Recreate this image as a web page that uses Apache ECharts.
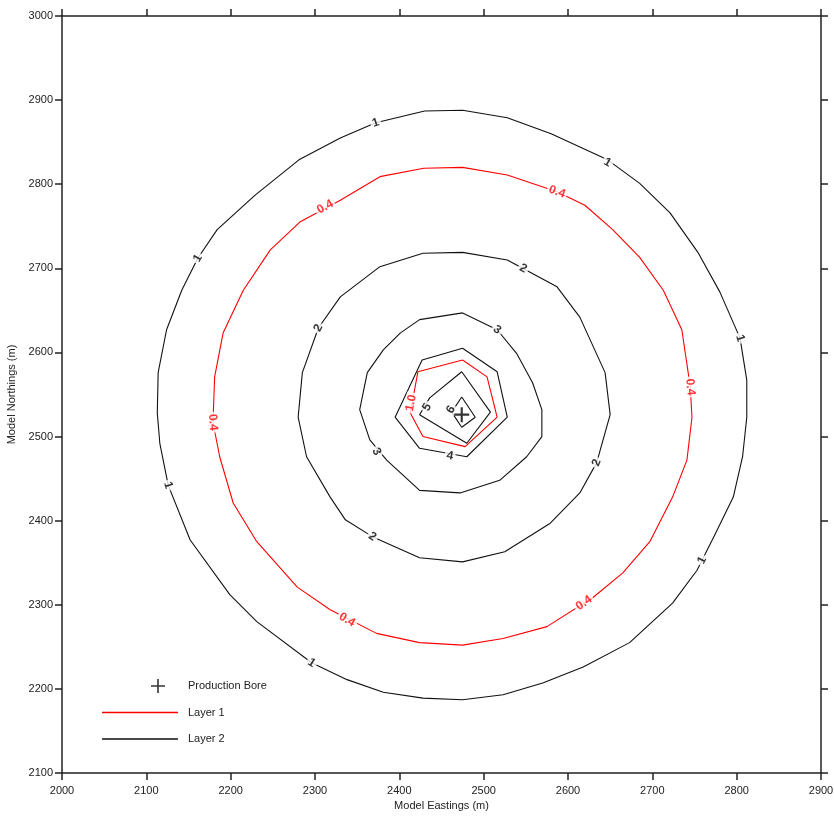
<!DOCTYPE html>
<html><head><meta charset="utf-8">
<script src="https://cdn.jsdelivr.net/npm/echarts@6/dist/echarts.min.js"></script>
<style>html,body{margin:0;padding:0;background:#fff}#c{width:834px;height:820px}</style>
</head><body><div id="c"></div>
<script>
const xName = 'Model Eastings (m)';
const yName = 'Model Northings (m)';
const xRange = [2000, 2900];
const yRange = [2100, 3000];
const tickStep = 100;

const boreName = 'Production Bore';
const bore = [[2474, 2526]];
const layer1Name = 'Layer 1';
const layer2Name = 'Layer 2';

// Layer 1 (red) contours
const layer1_c04 = [[2429,2819],[2475,2820],[2528,2811],[2587,2791],[2620,2775],[2653,2746],[2685,2713],[2713,2674],[2735,2627],[2745,2559],[2747,2523],[2741,2472],[2724,2428],[2697,2375],[2665,2338],[2630,2309],[2575,2274],[2523,2260],[2475,2252],[2424,2255],[2373,2266],[2318,2294],[2279,2321],[2231,2375],[2203,2421],[2187,2476],[2179,2517],[2181,2571],[2191,2623],[2215,2674],[2247,2722],[2282,2755],[2330,2781],[2377,2809]];
const layer1_c10 = [[2475,2591],[2504,2571],[2516,2523],[2478,2488],[2428,2500],[2413,2528],[2422,2577]];

// Layer 2 (black) contours
const layer2_c1 = [[2430,2887],[2475,2888],[2528,2879],[2580,2860],[2647,2829],[2685,2801],[2721,2766],[2754,2719],[2780,2672],[2804,2617],[2812,2567],[2812,2523],[2807,2476],[2796,2428],[2774,2383],[2753,2341],[2724,2302],[2673,2255],[2618,2226],[2570,2207],[2523,2193],[2475,2187],[2428,2189],[2381,2196],[2338,2211],[2296,2231],[2231,2280],[2199,2312],[2152,2377],[2126,2442],[2116,2492],[2113,2528],[2114,2576],[2124,2627],[2142,2674],[2161,2712],[2184,2746],[2229,2787],[2281,2829],[2330,2855],[2372,2873]];
const layer2_c2 = [[2428,2718],[2475,2719],[2528,2710],[2587,2678],[2614,2642],[2644,2576],[2650,2526],[2634,2469],[2614,2433],[2579,2397],[2525,2363],[2475,2351],[2424,2356],[2368,2381],[2336,2401],[2318,2428],[2290,2476],[2280,2523],[2285,2576],[2304,2629],[2330,2666],[2377,2702]];
const layer2_c3 = [[2475,2647],[2516,2627],[2539,2599],[2558,2564],[2569,2532],[2569,2500],[2551,2476],[2519,2448],[2472,2433],[2424,2436],[2385,2472],[2365,2496],[2353,2532],[2362,2576],[2381,2603],[2401,2623],[2424,2639]];
const layer2_c4 = [[2475,2605],[2516,2577],[2528,2523],[2480,2476],[2424,2486],[2395,2523],[2427,2591]];
const layer2_c5 = [[2474,2577],[2508,2529],[2480,2492],[2424,2526],[2436,2546]];
const layer2_c6 = [[2474,2547],[2490,2523],[2474,2511],[2462,2529]];

// contour labels: [x, y, text, angle]
const layer1Labels = [[2312,2773,'0.4',29],[2587,2791,'0.4',-21],[2745,2559,'0.4',-85],[2619,2302,'0.4',35],[2338,2282,'0.4',-30],[2179,2517,'0.4',-86],[2414,2540,'1.0',79]];
const layer2Labels = [[2372,2873,'1',18],[2647,2826,'1',-29],[2804,2617,'1',-73],[2759,2353,'1',63],[2296,2231,'1',-33],[2126,2442,'1',-73],[2161,2712,'1',60],
  [2547,2700,'2',-28],[2304,2629,'2',63],[2634,2469,'2',69],[2368,2381,'2',-34],
  [2516,2627,'3',-36],[2373,2482,'3',-62],[2460,2477,'4',-11],[2433,2535,'5',60],[2461,2532,'6',56]];

const FONT = '"Liberation Sans", Arial, sans-serif';
const RED = '#ff0000', BLACK = '#111', AX = '#222';

function ring(p){ return p.concat([p[0]]); }
function lineSeries(name, pts, color){
  return {type:'line', name:name, data:ring(pts), symbol:'none', showSymbol:false,
    lineStyle:{color:color, width:1.1}, itemStyle:{color:color}, silent:true, z:2, animation:false};
}
function labelSeries(id, labels, color){
  return {type:'scatter', name:id, symbolSize:1, itemStyle:{color:'rgba(0,0,0,0)'}, z:5, silent:true, animation:false,
    data: labels.map(l => ({value:[l[0], l[1]], label:{formatter:l[2], rotate:l[3]}})),
    label:{show:true, position:'inside', color:color, fontWeight:'bold', fontSize:12, fontFamily:FONT,
      backgroundColor:'#fff', padding:[0,2], align:'center', verticalAlign:'middle'}};
}

const series = [];
[layer1_c04, layer1_c10].forEach(c => series.push(lineSeries(layer1Name, c, RED)));
[layer2_c1, layer2_c2, layer2_c3, layer2_c4, layer2_c5, layer2_c6].forEach(c => series.push(lineSeries(layer2Name, c, BLACK)));
series.push(labelSeries('l1labels', layer1Labels, RED));
series.push(labelSeries('l2labels', layer2Labels, '#000'));
series.push({type:'scatter', name:boreName, data:bore, symbol:'path://M-1,-7 H1 V-1 H7 V1 H1 V7 H-1 V1 H-7 V-1 H-1 Z',
  symbolSize:15, itemStyle:{color:'#000'}, z:6, silent:true, animation:false});

const axisLine = {show:true, lineStyle:{color:AX, width:1.5}};
const axisTick = {show:true, inside:false, length:7, lineStyle:{color:AX, width:1.5}};
const plusIcon = 'path://M0,0 L0,0 Z M76,14 L76,14 Z M55.2,0 H56.8 V6.2 H63 V7.8 H56.8 V14 H55.2 V7.8 H49 V6.2 H55.2 Z';
const lineIcon = 'path://M0,0 L0,0 Z M76,14 L76,14 Z M0,6.25 H76 V7.75 H0 Z';
const plain = v => String(v);

const chart = echarts.init(document.getElementById('c'), null, {renderer:'canvas'});
chart.setOption({
  animation:false,
  backgroundColor:'#fff',
  grid:{left:62, right:13, top:16, bottom:47, containLabel:false, outerBoundsMode:'none'},
  legend:{orient:'vertical', left:102, top:679, padding:0, itemWidth:76, itemHeight:14, itemGap:12.5,
    itemStyle:{borderWidth:0},
    textStyle:{fontSize:11, color:AX, fontFamily:FONT, padding:[0,0,0,5]},
    data:[{name:boreName, icon:plusIcon}, {name:layer1Name, icon:lineIcon}, {name:layer2Name, icon:lineIcon}]},
  xAxis:[
    {type:'value', min:xRange[0], max:xRange[1], interval:tickStep, position:'bottom',
     name:xName, nameLocation:'middle', nameGap:27, nameTextStyle:{fontSize:11, color:AX, fontFamily:FONT},
     axisLine:axisLine, axisTick:axisTick, splitLine:{show:false},
     axisLabel:{fontSize:11, color:AX, fontFamily:FONT, margin:12, formatter:plain}},
    {type:'value', min:xRange[0], max:xRange[1], interval:tickStep, position:'top',
     axisLine:axisLine, axisTick:axisTick, splitLine:{show:false}, axisLabel:{show:false}}
  ],
  yAxis:[
    {type:'value', min:yRange[0], max:yRange[1], interval:tickStep, position:'left',
     name:yName, nameLocation:'middle', nameGap:43, nameTextStyle:{fontSize:11, color:AX, fontFamily:FONT},
     axisLine:axisLine, axisTick:axisTick, splitLine:{show:false},
     axisLabel:{fontSize:11, color:AX, fontFamily:FONT, margin:9, formatter:plain}},
    {type:'value', min:yRange[0], max:yRange[1], interval:tickStep, position:'right',
     axisLine:axisLine, axisTick:axisTick, splitLine:{show:false}, axisLabel:{show:false}}
  ],
  series: series
});
</script></body></html>
